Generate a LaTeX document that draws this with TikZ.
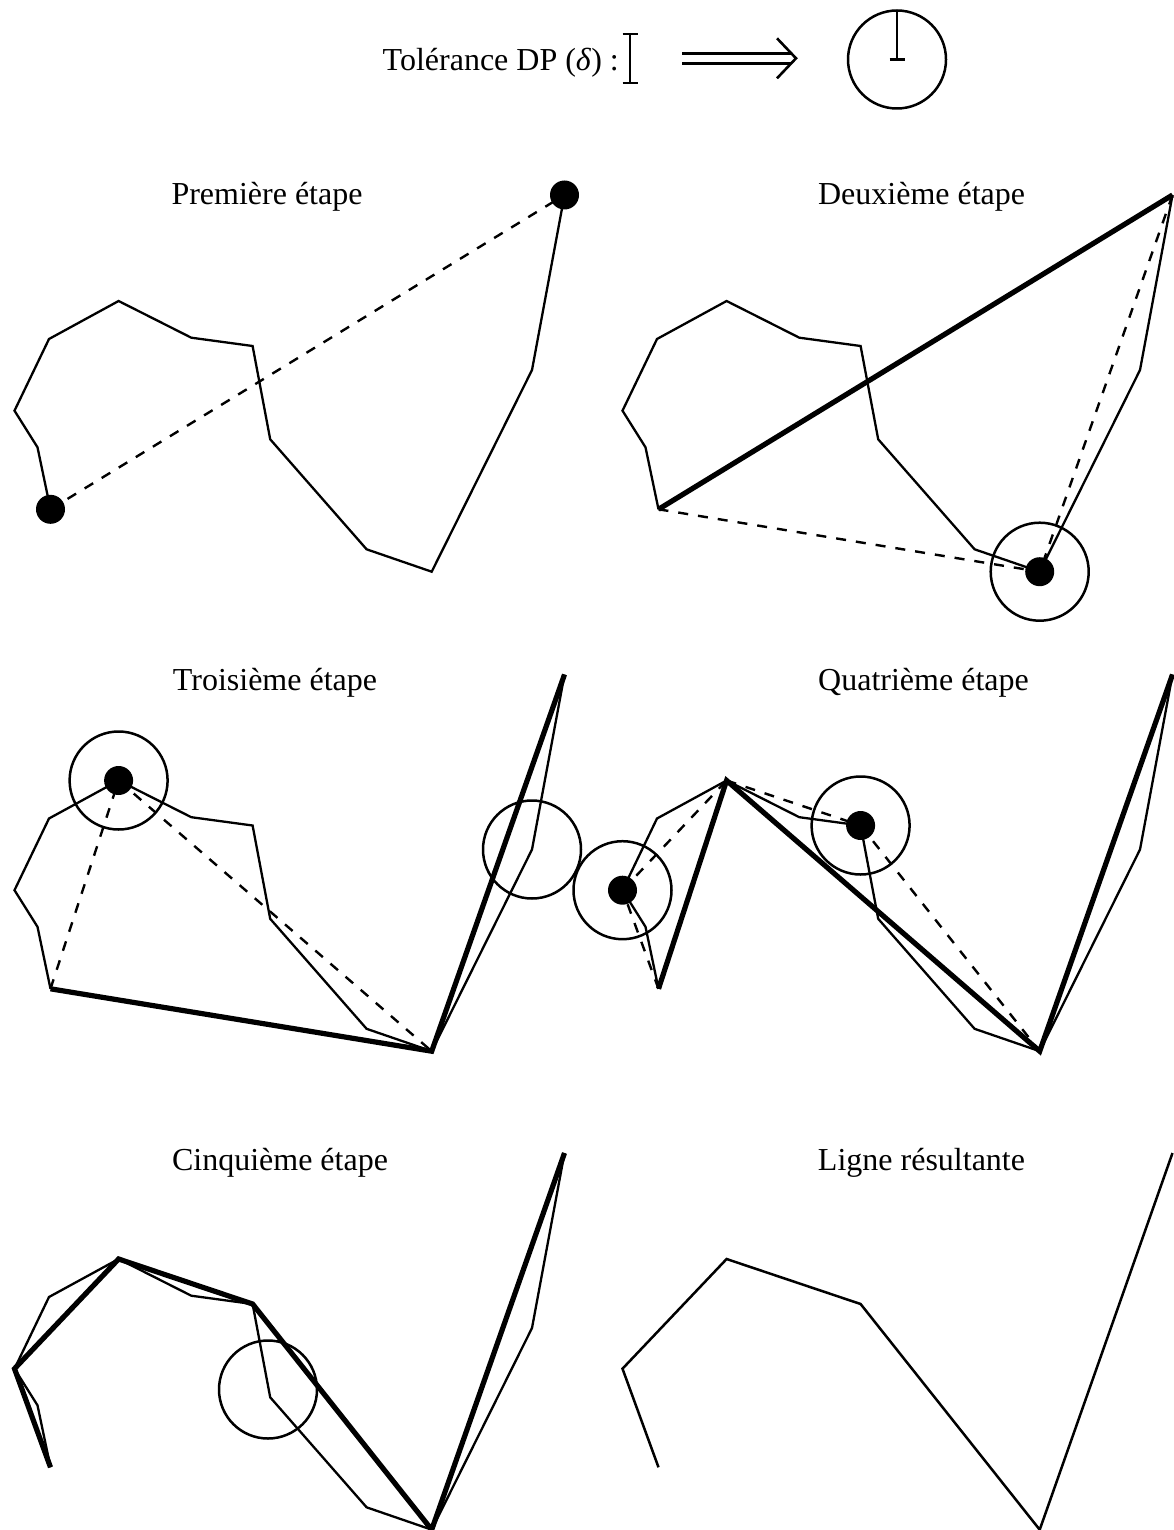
\documentclass[tikz,border=0pt]{standalone}
\usepackage{fontspec}
\setmainfont{Liberation Serif}
\newcommand\defpts[1]{%
  \coordinate (#1-0) at (50.5,509.3);
  \coordinate (#1-1) at (37.5,447.3);
  \coordinate (#1-2) at (14.5,410.7);
  \coordinate (#1-3) at (49,339);
  \coordinate (#1-4) at (118.6,301);
  \coordinate (#1-5) at (191.3,337.7);
  \coordinate (#1-6) at (252.6,346);
  \coordinate (#1-7) at (270.2,439.3);
  \coordinate (#1-8) at (366.6,549.3);
  \coordinate (#1-9) at (431.7,571.7);
  \coordinate (#1-10) at (532,370);
  \coordinate (#1-11) at (564.5,195);
}
\newcommand\drawpoly[1]{%
  \draw[poly] (#1-0) -- (#1-1) -- (#1-2) -- (#1-3) -- (#1-4) -- (#1-5) -- (#1-6)
    -- (#1-7) -- (#1-8) -- (#1-9) -- (#1-10) -- (#1-11);
}
\begin{document}
\begin{tikzpicture}[x=1pt,y=-1pt,
  poly/.style={line width=2.3pt, line join=miter},
  simp/.style={line width=5.2pt, line join=miter},
  dashline/.style={line width=2.4pt, dash pattern=on 10pt off 10pt},
  tolcirc/.style={line width=2.5pt},
  dotfill/.style={fill=black},
  lab/.style={font=\fontsize{32}{38}\selectfont, anchor=base, inner sep=0pt}]
\useasboundingbox (0,0) rectangle (1174,1530);

% ---------- legend ----------
\node[lab, anchor=base east] (tolt) at (619,71) {Tolérance DP (\textit{δ}) :};
\coordinate (ibt) at (630,34);
\coordinate (ibb) at (630,83);
\draw[line width=1.8pt] (ibt) -- (ibb);
\draw[line width=2.6pt] ([xshift=-7.5pt]ibt) -- ([xshift=7.5pt]ibt);
\draw[line width=2.6pt] ([xshift=-7.5pt]ibb) -- ([xshift=7.5pt]ibb);
\coordinate (ar0) at (682,58.3);
\coordinate (ar1) at (796,58.3);
\draw[line width=2.6pt] ([yshift=-5pt]ar0) -- ([xshift=-5pt,yshift=-5pt]ar1);
\draw[line width=2.6pt] ([yshift=5pt]ar0) -- ([xshift=-5pt,yshift=5pt]ar1);
\draw[line width=2.6pt, line join=miter] ([xshift=-19pt,yshift=-20pt]ar1) -- (ar1) -- ([xshift=-19pt,yshift=20pt]ar1);
\coordinate (tc) at (897,59.5);
\draw[tolcirc] (tc) circle[radius=49pt];
\draw[line width=1.8pt] ([yshift=49pt]tc) -- (tc);
\draw[line width=2.6pt] ([xshift=-7.5pt]tc) -- ([xshift=7.5pt]tc);

% ---------- Panel 1 ----------
\begin{scope}
  \defpts{a}
  \node[lab] (l1) at (267,205) {Première étape};
  \drawpoly{a}
  \draw[dashline] (a-0) -- (a-11);
  \fill[dotfill] (a-0) circle[radius=14.5pt];
  \fill[dotfill] (a-11) circle[radius=14.5pt];
\end{scope}

% ---------- Panel 2 ----------
\begin{scope}[shift={(608,0)}]
  \defpts{b}
  \node[lab] (l2) at (313.6,205) {Deuxième étape};
  \drawpoly{b}
  \draw[simp] (b-0) -- (b-11);
  \draw[dashline] (b-0) -- (b-9);
  \draw[dashline] (b-11) -- (b-9);
  \draw[tolcirc] (b-9) circle[radius=49pt];
  \fill[dotfill] (b-9) circle[radius=14.5pt];
\end{scope}

% ---------- Panel 3 ----------
\begin{scope}[shift={(0,479.5)}]
  \defpts{c}
  \node[lab] (l3) at (275,210.5) {Troisième étape};
  \drawpoly{c}
  \draw[simp] (c-0) -- (c-9) -- (c-11);
  \draw[dashline] (c-0) -- (c-4);
  \draw[dashline] (c-4) -- (c-9);
  \draw[tolcirc] (c-4) circle[radius=49pt];
  \draw[tolcirc] (c-10) circle[radius=49pt];
  \fill[dotfill] (c-4) circle[radius=14.5pt];
\end{scope}

% ---------- Panel 4 ----------
\begin{scope}[shift={(608,479.5)}]
  \defpts{d}
  \node[lab] (l4) at (315.5,210.5) {Quatrième étape};
  \drawpoly{d}
  \draw[simp] (d-0) -- (d-4) -- (d-9) -- (d-11);
  \draw[dashline] (d-0) -- (d-2);
  \draw[dashline] (d-2) -- (d-4);
  \draw[dashline] (d-4) -- (d-6);
  \draw[dashline] (d-6) -- (d-9);
  \draw[tolcirc] (d-2) circle[radius=49pt];
  \draw[tolcirc] (d-6) circle[radius=49pt];
  \fill[dotfill] (d-2) circle[radius=14.5pt];
  \fill[dotfill] (d-6) circle[radius=14.5pt];
\end{scope}

% ---------- Panel 5 ----------
\begin{scope}[shift={(0,958)}]
  \defpts{e}
  \node[lab] (l5) at (280,212) {Cinquième étape};
  \drawpoly{e}
  \draw[simp] (e-0) -- (e-2) -- (e-4) -- (e-6) -- (e-9) -- (e-11);
  \draw[tolcirc] ([xshift=-2.2pt,yshift=7.8pt]e-7) circle[radius=49pt];
\end{scope}

% ---------- Panel 6 ----------
\begin{scope}[shift={(608,958)}]
  \defpts{f}
  \node[lab] (l6) at (313.5,212) {Ligne résultante};
  \draw[poly, line width=2.5pt] (f-0) -- (f-2) -- (f-4) -- (f-6) -- (f-9) -- (f-11);
\end{scope}
\end{tikzpicture}
\end{document}
